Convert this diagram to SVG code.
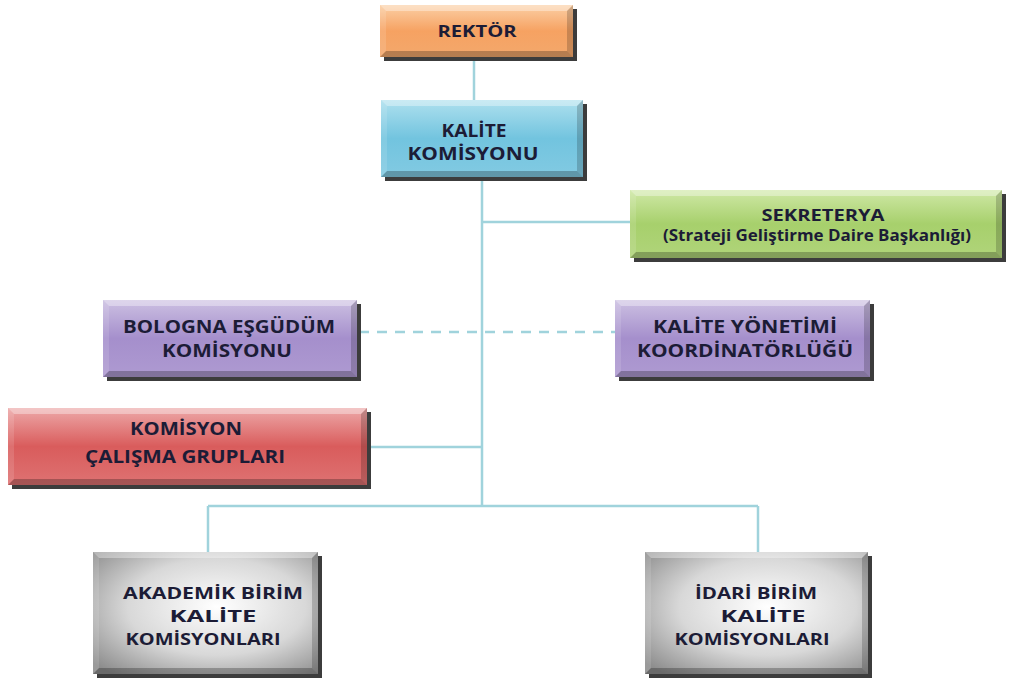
<svg xmlns="http://www.w3.org/2000/svg" width="1014" height="678" viewBox="0 0 1014 678">
<defs>
<linearGradient id="gOrange" x1="0" y1="0" x2="0" y2="1"><stop offset="0" stop-color="#fbcfa5"/><stop offset="0.5" stop-color="#f6a262"/><stop offset="1" stop-color="#f3a86c"/></linearGradient>
<linearGradient id="gBlue" x1="0" y1="0" x2="0" y2="1"><stop offset="0" stop-color="#aee0ee"/><stop offset="0.5" stop-color="#72c4df"/><stop offset="1" stop-color="#82cae2"/></linearGradient>
<linearGradient id="gGreen" x1="0" y1="0" x2="0" y2="1"><stop offset="0" stop-color="#cfe8a6"/><stop offset="0.5" stop-color="#a7d06c"/><stop offset="1" stop-color="#b0d47a"/></linearGradient>
<linearGradient id="gPurple" x1="0" y1="0" x2="0" y2="1"><stop offset="0" stop-color="#ccc0e2"/><stop offset="0.5" stop-color="#a58fcc"/><stop offset="1" stop-color="#ae9ad1"/></linearGradient>
<linearGradient id="gRed" x1="0" y1="0" x2="0" y2="1"><stop offset="0" stop-color="#eda8a8"/><stop offset="0.5" stop-color="#d95c5c"/><stop offset="1" stop-color="#de7272"/></linearGradient>
<radialGradient id="gGray" cx="0.55" cy="0.45" r="0.72"><stop offset="0" stop-color="#ffffff"/><stop offset="0.55" stop-color="#d8d8d8"/><stop offset="1" stop-color="#8c8c8c"/></radialGradient>
<style>
.sh{fill:#3c3c3c}
.bt{fill:#ffffff;fill-opacity:0.35}
.bb{fill:#000000;fill-opacity:0.25}
.bl{fill:#ffffff;fill-opacity:0.12}
.br{fill:#000000;fill-opacity:0.18}
.t{font-family:"Open Sans","DejaVu Sans",sans-serif;font-weight:bold;font-size:17px;fill:#1c1c36;text-anchor:middle}
.s16{font-size:16px}
.s18{font-size:18px}
.c{stroke:#a0d3dc;stroke-width:2.5;fill:none}
.d{stroke-dasharray:10 8}
</style>
</defs>
<g id="connectors">
<line class="c" x1="474" y1="57" x2="474" y2="100"/>
<line class="c" x1="482" y1="177" x2="482" y2="506"/>
<line class="c" x1="482" y1="222" x2="630" y2="222"/>
<line class="c d" x1="359" y1="332" x2="615" y2="332"/>
<line class="c" x1="369" y1="447" x2="482" y2="447"/>
<line class="c" x1="208" y1="506" x2="758" y2="506"/>
<line class="c" x1="208" y1="506" x2="208" y2="552"/>
<line class="c" x1="758" y1="506" x2="758" y2="552"/>
</g>
<g id="rektor">
<rect class="sh" x="384" y="9" width="193" height="52"/>
<rect x="380" y="5" width="193" height="52" fill="url(#gOrange)"/>
<polygon class="bt" points="380,5 573,5 567,11 386,11"/>
<polygon class="bb" points="380,57 573,57 567,51 386,51"/>
<polygon class="bl" points="380,5 386,11 386,51 380,57"/>
<polygon class="br" points="573,5 567,11 567,51 573,57"/>
<text class="t s16" x="477" y="37" textLength="79" lengthAdjust="spacingAndGlyphs">REKTÖR</text>
</g>
<g id="kalite-komisyonu">
<rect class="sh" x="385" y="104" width="202" height="77"/>
<rect x="381" y="100" width="202" height="77" fill="url(#gBlue)"/>
<polygon class="bt" points="381,100 583,100 577,106 387,106"/>
<polygon class="bb" points="381,177 583,177 577,171 387,171"/>
<polygon class="bl" points="381,100 387,106 387,171 381,177"/>
<polygon class="br" points="583,100 577,106 577,171 583,177"/>
<text class="t s18" x="474" y="137" textLength="65" lengthAdjust="spacingAndGlyphs">KALİTE</text>
<text class="t s18" x="473" y="160" textLength="131" lengthAdjust="spacingAndGlyphs">KOMİSYONU</text>
</g>
<g id="sekreterya">
<rect class="sh" x="634" y="194" width="372" height="68"/>
<rect x="630" y="190" width="372" height="68" fill="url(#gGreen)"/>
<polygon class="bt" points="630,190 1002,190 996,196 636,196"/>
<polygon class="bb" points="630,258 1002,258 996,252 636,252"/>
<polygon class="bl" points="630,190 636,196 636,252 630,258"/>
<polygon class="br" points="1002,190 996,196 996,252 1002,258"/>
<text class="t s16" x="823" y="221" textLength="123" lengthAdjust="spacingAndGlyphs">SEKRETERYA</text>
<text class="t s16" x="817" y="241" textLength="308" lengthAdjust="spacingAndGlyphs">(Strateji Geliştirme Daire Başkanlığı)</text>
</g>
<g id="bologna">
<rect class="sh" x="107" y="304" width="254" height="77"/>
<rect x="103" y="300" width="254" height="77" fill="url(#gPurple)"/>
<polygon class="bt" points="103,300 357,300 351,306 109,306"/>
<polygon class="bb" points="103,377 357,377 351,371 109,371"/>
<polygon class="bl" points="103,300 109,306 109,371 103,377"/>
<polygon class="br" points="357,300 351,306 351,371 357,377"/>
<text class="t" x="229" y="333" textLength="212" lengthAdjust="spacingAndGlyphs">BOLOGNA EŞGÜDÜM</text>
<text class="t" x="227" y="357" textLength="130" lengthAdjust="spacingAndGlyphs">KOMİSYONU</text>
</g>
<g id="kalite-yonetimi">
<rect class="sh" x="619" y="304" width="255" height="77"/>
<rect x="615" y="300" width="255" height="77" fill="url(#gPurple)"/>
<polygon class="bt" points="615,300 870,300 864,306 621,306"/>
<polygon class="bb" points="615,377 870,377 864,371 621,371"/>
<polygon class="bl" points="615,300 621,306 621,371 615,377"/>
<polygon class="br" points="870,300 864,306 864,371 870,377"/>
<text class="t" x="745" y="333" textLength="184" lengthAdjust="spacingAndGlyphs">KALİTE YÖNETİMİ</text>
<text class="t" x="745" y="357" textLength="216" lengthAdjust="spacingAndGlyphs">KOORDİNATÖRLÜĞÜ</text>
</g>
<g id="calisma-gruplari">
<rect class="sh" x="12" y="412" width="359" height="77"/>
<rect x="8" y="408" width="359" height="77" fill="url(#gRed)"/>
<polygon class="bt" points="8,408 367,408 361,414 14,414"/>
<polygon class="bb" points="8,485 367,485 361,479 14,479"/>
<polygon class="bl" points="8,408 14,414 14,479 8,485"/>
<polygon class="br" points="367,408 361,414 361,479 367,485"/>
<text class="t" x="186" y="435" textLength="112" lengthAdjust="spacingAndGlyphs">KOMİSYON</text>
<text class="t" x="185" y="463" textLength="200" lengthAdjust="spacingAndGlyphs">ÇALIŞMA GRUPLARI</text>
</g>
<g id="akademik">
<rect class="sh" x="97" y="556" width="225" height="122"/>
<rect x="93" y="552" width="225" height="122" fill="url(#gGray)"/>
<polygon class="bt" points="93,552 318,552 312,558 99,558"/>
<polygon class="bb" points="93,674 318,674 312,668 99,668"/>
<polygon class="bl" points="93,552 99,558 99,668 93,674"/>
<polygon class="br" points="318,552 312,558 312,668 318,674"/>
<text class="t s16" x="213" y="599" textLength="180" lengthAdjust="spacingAndGlyphs">AKADEMİK BİRİM</text>
<text class="t s16" x="213" y="622" textLength="87" lengthAdjust="spacingAndGlyphs">KALİTE</text>
<text class="t s16" x="203" y="645" textLength="155" lengthAdjust="spacingAndGlyphs">KOMİSYONLARI</text>
</g>
<g id="idari">
<rect class="sh" x="649" y="556" width="223" height="122"/>
<rect x="645" y="552" width="223" height="122" fill="url(#gGray)"/>
<polygon class="bt" points="645,552 868,552 862,558 651,558"/>
<polygon class="bb" points="645,674 868,674 862,668 651,668"/>
<polygon class="bl" points="645,552 651,558 651,668 645,674"/>
<polygon class="br" points="868,552 862,558 862,668 868,674"/>
<text class="t s16" x="756" y="599" textLength="122" lengthAdjust="spacingAndGlyphs">İDARİ BİRİM</text>
<text class="t s16" x="763" y="622" textLength="85" lengthAdjust="spacingAndGlyphs">KALİTE</text>
<text class="t s16" x="752" y="645" textLength="155" lengthAdjust="spacingAndGlyphs">KOMİSYONLARI</text>
</g>
</svg>
